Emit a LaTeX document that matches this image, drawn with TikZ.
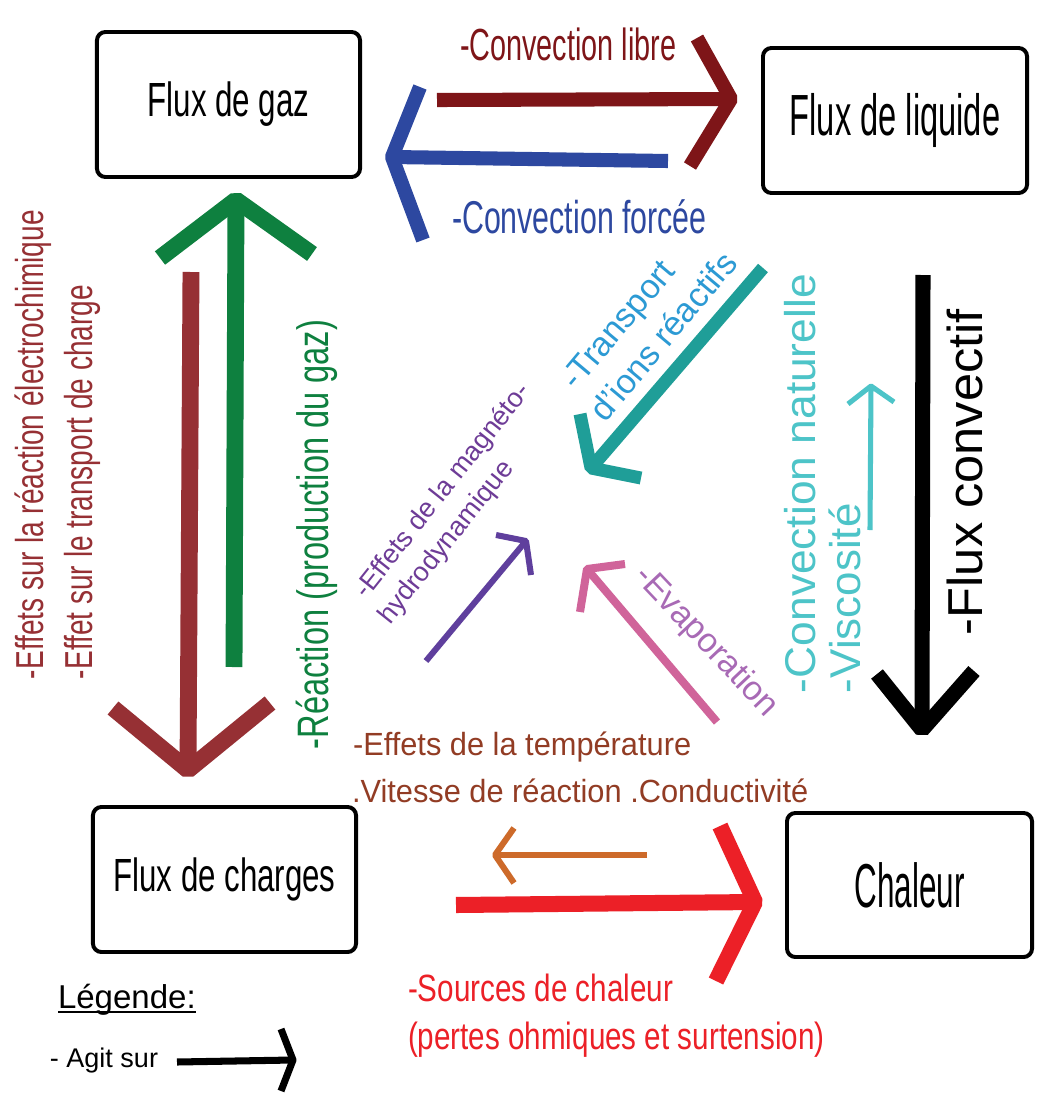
\documentclass[tikz,border=0pt]{standalone}
\usepackage{fontspec}
\usepackage{graphicx}
\setmainfont{Liberation Sans}
\usetikzlibrary{calc}
\definecolor{cLibre}{HTML}{7E1518}
\definecolor{cForcee}{HTML}{2D48A0}
\definecolor{cGreen}{HTML}{0E803F}
\definecolor{cBrown}{HTML}{963034}
\definecolor{cCyan}{HTML}{4DC4C8}
\definecolor{cTeal}{HTML}{1F9E98}
\definecolor{cTealTxt}{HTML}{2C9AD4}
\definecolor{cPurple}{HTML}{5F3F9D}
\definecolor{cPurpleTxt}{HTML}{6E3C97}
\definecolor{cPink}{HTML}{D0649A}
\definecolor{cPinkTxt}{HTML}{A86AB5}
\definecolor{cOrange}{HTML}{CD6A2A}
\definecolor{cTemp}{HTML}{923C24}
\definecolor{cRed}{HTML}{EC2027}
\newcommand\lbl[3]{{\fontsize{#1}{#1}\selectfont\scalebox{#2}[1]{#3}}}
\begin{document}
\begin{tikzpicture}[x=0.025cm,y=-0.025cm,
  box/.style={draw=black,line width=2.8pt,rounded corners=6pt,inner sep=0pt,outer sep=0pt},
  txt/.style={inner sep=0pt,outer sep=0pt},
  shaft/.style={line width=#1,line cap=butt},
  head/.style={line width=#1,line cap=butt,line join=bevel},
]
\fill[white] (0,0) rectangle (1037,1093);
\useasboundingbox (0,0) rectangle (1037,1093);

% ---------- boxes
\node[box,minimum width=6.575cm,minimum height=3.625cm] (gaz) at (228.5,104.5) {\lbl{34.1pt}{0.653}{Flux de gaz}};
\node[box,minimum width=6.6cm,minimum height=3.625cm] (liq) at (895,120.5) {\lbl{41.3pt}{0.562}{Flux de liquide}};
\node[box,minimum width=6.575cm,minimum height=3.625cm] (charges) at (224.5,879.5) {\lbl{33.1pt}{0.671}{Flux de charges}};
\node[box,minimum width=6.125cm,minimum height=3.6cm] (chaleur) at (909.5,885) {\lbl{44.1pt}{0.507}{Chaleur}};

% ---------- arrows
% convection libre
\coordinate (libS) at (437,100); \coordinate (libT) at (731,99);
\coordinate (libA) at (697,38);  \coordinate (libB) at (690,166);
\draw[cLibre,shaft=10pt] (libS) -- (libT);
\draw[cLibre,head=10pt] (libA) -- (libT) -- (libB);
% convection forcee
\coordinate (forS) at (668,161); \coordinate (forT) at (392,157);
\coordinate (forA) at (420,87);  \coordinate (forB) at (423,240);
\draw[cForcee,shaft=10pt] (forS) -- (forT);
\draw[cForcee,head=10pt] (forA) -- (forT) -- (forB);
% reaction (green)
\coordinate (grS) at (234,667); \coordinate (grT) at (236,200);
\coordinate (grA) at (160,258); \coordinate (grB) at (312,254);
\draw[cGreen,shaft=12pt] (grS) -- (grT);
\draw[cGreen,head=12pt] (grA) -- (grT) -- (grB);
% effets sur la reaction (brown)
\coordinate (brS) at (191,272); \coordinate (brT) at (188,770);
\coordinate (brA) at (113,708); \coordinate (brB) at (270,703);
\draw[cBrown,shaft=12pt] (brS) -- (brT);
\draw[cBrown,head=12pt] (brA) -- (brT) -- (brB);
% flux convectif (black)
\coordinate (bkS) at (923,275); \coordinate (bkT) at (922,730);
\coordinate (bkA) at (877,674); \coordinate (bkB) at (974,671);
\draw[black,shaft=10.7pt] (bkS) -- (bkT);
\draw[black,head=10.7pt] (bkA) -- (bkT) -- (bkB);
% viscosite (cyan)
\coordinate (cyS) at (870,530); \coordinate (cyT) at (871,386);
\coordinate (cyA) at (848,404); \coordinate (cyB) at (894,402);
\draw[cCyan,shaft=3.6pt] (cyS) -- (cyT);
\draw[cCyan,head=3.6pt] (cyA) -- (cyT) -- (cyB);
% transport d'ions (teal)
\coordinate (teS) at (763,268); \coordinate (teT) at (591,468);
\coordinate (teA) at (580,414); \coordinate (teB) at (641,478);
\draw[cTeal,shaft=9.2pt] (teS) -- (teT);
\draw[cTeal,head=9.2pt] (teA) -- (teT) -- (teB);
% magneto (purple)
\coordinate (puS) at (426,661); \coordinate (puT) at (526,541);
\coordinate (puA) at (496,535); \coordinate (puB) at (531,575);
\draw[cPurple,shaft=4.3pt] (puS) -- (puT);
\draw[cPurple,head=4.3pt] (puA) -- (puT) -- (puB);
% evaporation (pink)
\coordinate (piS) at (717,722); \coordinate (piT) at (587,569);
\coordinate (piA) at (625,564); \coordinate (piB) at (580,612);
\draw[cPink,shaft=5.7pt] (piS) -- (piT);
\draw[cPink,head=5.7pt] (piA) -- (piT) -- (piB);
% temperature (orange)
\coordinate (orS) at (647,855); \coordinate (orT) at (495,855);
\coordinate (orA) at (514,828); \coordinate (orB) at (514,883);
\draw[cOrange,shaft=4.3pt] (orS) -- (orT);
\draw[cOrange,head=4.3pt] (orA) -- (orT) -- (orB);
% sources de chaleur (red)
\coordinate (reS) at (456,905); \coordinate (reT) at (755,902);
\coordinate (reA) at (720,826); \coordinate (reB) at (716,981);
\draw[cRed,shaft=11.4pt] (reS) -- (reT);
\draw[cRed,head=11.4pt] (reA) -- (reT) -- (reB);
% legend arrow
\coordinate (lgS) at (177,1062); \coordinate (lgT) at (293,1060);
\coordinate (lgA) at (281,1029); \coordinate (lgB) at (281,1091);
\draw[black,shaft=5pt] (lgS) -- (lgT);
\draw[black,head=5pt] (lgA) -- (lgT) -- (lgB);

% ---------- texts
\node[txt,text=cLibre,anchor=base west] (tlibre) at (460,60) {\lbl{32pt}{0.64}{-Convection libre}};
\node[txt,text=cForcee,anchor=base west] (tforcee) at (452,233) {\lbl{32.7pt}{0.66}{-Convection forcée}};
\node[txt,text=cBrown,rotate=90,anchor=base west] (tel1) at (43,679) {\lbl{27.7pt}{0.72}{-Effets sur la réaction électrochimique}};
\node[txt,text=cBrown,rotate=90,anchor=base west] (tel2) at (92,679) {\lbl{27.7pt}{0.72}{-Effet sur le transport de charge}};
\node[txt,text=cGreen,rotate=90,anchor=base west] (treac) at (328,749) {\lbl{31.3pt}{0.74}{-Réaction (production du gaz)}};
\node[txt,text=black,rotate=90,anchor=base west] (tflux) at (982,635) {\lbl{34.9pt}{1.03}{-Flux convectif}};
\node[txt,text=cCyan,rotate=90,anchor=base west] (tnat) at (815,693) {\lbl{30.6pt}{1.03}{-Convection naturelle}};
\node[txt,text=cCyan,rotate=90,anchor=base west] (tvisc) at (860,693) {\lbl{30.6pt}{1.02}{-Viscosité}};
\node[txt,text=cTealTxt,rotate=50,align=left,font=\fontsize{24.2pt}{30.3pt}\selectfont] (ttr) at (647,322.8)
  {\hspace*{4.3pt}-Transport\\d{\char"27}ions réactifs};
\node[txt,text=cPurpleTxt,rotate=51.5,align=left,font=\fontsize{19.2pt}{24.7pt}\selectfont] (tmh) at (455.3,504)
  {\hspace*{4pt}-Effets de la magnéto-\\hydrodynamique};
\node[txt,text=cPinkTxt,rotate=-46.6] (tevap) at (706,642) {\lbl{24.2pt}{1}{-Evaporation}};
\node[txt,text=cTemp,anchor=base west] (ttemp1) at (353,755) {\lbl{22.8pt}{0.96}{-Effets de la température}};
\node[txt,text=cTemp,anchor=base west] (ttemp2) at (352,802) {\lbl{22.8pt}{0.96}{.Vitesse de réaction .Conductivité}};
\node[txt,text=cRed,anchor=base west] (tsrc1) at (408,1001) {\lbl{27pt}{0.78}{-Sources de chaleur}};
\node[txt,text=cRed,anchor=base west] (tsrc2) at (408,1049) {\lbl{27pt}{0.78}{(pertes ohmiques et surtension)}};
\node[txt,anchor=base west] (tleg) at (58,1008) {\lbl{23.5pt}{1}{Légende:}};
\draw[line width=1.5pt] ($(tleg.base west)+(0,4)$) -- ($(tleg.base east)+(0,4)$);
\node[txt,anchor=base west] (tagit) at (50,1067) {\lbl{19.2pt}{1}{- Agit sur}};
\end{tikzpicture}
\end{document}
